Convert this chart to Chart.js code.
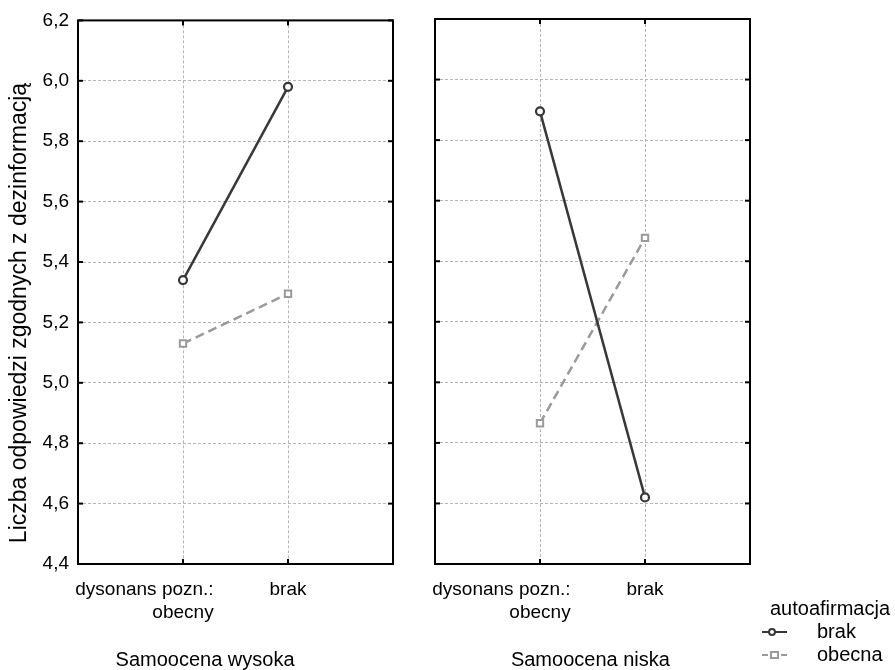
<!DOCTYPE html>
<html>
<head>
<meta charset="utf-8">
<script src="https://cdn.jsdelivr.net/npm/chart.js@4/dist/chart.umd.min.js"></script>
<style>
  html, body { margin: 0; padding: 0; background: #fff; }
  #wrap { position: relative; width: 895px; height: 670px; background: #fff; }
  #wrap canvas { position: absolute; left: 0; top: 0; }
</style>
</head>
<body>
<div id="wrap">
  <canvas id="chartHigh" width="895" height="670"></canvas>
  <canvas id="chartLow" width="895" height="670"></canvas>
</div>
<script>
// Factor on the x axis and its two levels
const factorName = 'dysonans pozn.:';
const levels = ['obecny', 'brak'];

// Panels (self-esteem groups)
const panelTitles = ['Samoocena wysoka', 'Samoocena niska'];

// Series (self-affirmation)
const legendTitle = 'autoafirmacja';
const seriesNames = ['brak', 'obecna'];

// Mean number of misinformation-consistent answers
const highBrak   = [5.34, 5.98];
const highObecna = [5.13, 5.295];
const lowBrak    = [5.895, 4.62];
const lowObecna  = [4.865, 5.477];

// Value axis
const yTicks = [4.4, 4.6, 4.8, 5.0, 5.2, 5.4, 5.6, 5.8, 6.0, 6.2];
const yTitle = 'Liczba odpowiedzi zgodnych z dezinformacją';

const FONT = '"Liberation Sans", Arial, Helvetica, sans-serif';
Chart.defaults.font.family = FONT;
Chart.defaults.color = '#000';

const DARK = '#383838';
const GREY = '#9a9a9a';

function points(vals) {
  return vals.map((v, i) => ({ x: i + 1, y: v }));
}

function line(ctx, x1, y1, x2, y2) {
  ctx.beginPath();
  ctx.moveTo(x1, y1);
  ctx.lineTo(x2, y2);
  ctx.stroke();
}

// Frame, inward tick marks, category labels, panel title, optional legend
const panelDecor = {
  id: 'panelDecor',
  afterDraw(chart, args, o) {
    const { ctx, chartArea: a, scales: { x, y } } = chart;
    ctx.save();
    ctx.strokeStyle = '#000';
    ctx.lineWidth = 2;
    y.ticks.forEach(t => {
      const py = y.getPixelForValue(t.value);
      line(ctx, a.left, py, a.left + 5, py);
      line(ctx, a.right - 5, py, a.right, py);
    });
    levels.forEach((_, i) => {
      const px = x.getPixelForValue(i + 1);
      line(ctx, px, a.top, px, a.top + 5);
      line(ctx, px, a.bottom - 5, px, a.bottom);
    });
    ctx.strokeRect(a.left, a.top, a.right - a.left, a.bottom - a.top);

    // category labels
    ctx.fillStyle = '#000';
    ctx.font = '19px ' + FONT;
    ctx.textBaseline = 'alphabetic';
    const p1 = x.getPixelForValue(1);
    const p2 = x.getPixelForValue(2);
    const w0 = ctx.measureText(levels[0]).width;
    ctx.textAlign = 'right';
    ctx.fillText(factorName, p1 + w0 / 2, a.bottom + 31);
    ctx.textAlign = 'center';
    ctx.fillText(levels[0], p1, a.bottom + 54);
    ctx.fillText(levels[1], p2, a.bottom + 31);

    // panel title
    ctx.font = '20px ' + FONT;
    ctx.fillText(o.title, x.getPixelForValue(o.titleAt), a.bottom + 102);

    // vertical axis title
    if (o.yTitle) {
      ctx.save();
      ctx.translate(20, 313);
      ctx.rotate(-Math.PI / 2);
      ctx.font = '23px ' + FONT;
      ctx.textAlign = 'center';
      ctx.textBaseline = 'middle';
      ctx.fillText(o.yTitle, 0, 0);
      ctx.restore();
    }

    // legend
    if (o.legend) {
      ctx.font = '20px ' + FONT;
      ctx.textAlign = 'left';
      ctx.textBaseline = 'middle';
      ctx.fillText(legendTitle, 770, 609);
      chart.data.datasets.forEach((ds, i) => {
        const cy = 632 + i * 23;
        ctx.strokeStyle = ds.borderColor;
        ctx.lineWidth = 2;
        ctx.setLineDash([]);
        if (i === 0) {
          line(ctx, 762, cy, 787, cy);
          ctx.beginPath();
          ctx.arc(772, cy, 3, 0, Math.PI * 2);
          ctx.fillStyle = '#fff';
          ctx.fill();
          ctx.stroke();
        } else {
          line(ctx, 762, cy, 768, cy);
          line(ctx, 781, cy, 787, cy);
          ctx.fillStyle = '#fff';
          ctx.fillRect(771, cy - 3, 7, 6);
          ctx.strokeRect(771, cy - 3, 7, 6);
        }
        ctx.fillStyle = '#000';
        ctx.fillText(ds.label, 817, cy);
      });
    }
    ctx.restore();
  }
};

function makeChart(id, brakVals, obecnaVals, cfg) {
  return new Chart(document.getElementById(id), {
    type: 'line',
    data: {
      datasets: [
        {
          label: seriesNames[0],
          data: points(brakVals),
          borderColor: DARK,
          borderWidth: 2.5,
          pointStyle: 'circle',
          pointRadius: 4,
          pointBorderWidth: 2.2,
          pointBackgroundColor: '#fff',
          pointBorderColor: DARK,
          tension: 0
        },
        {
          label: seriesNames[1],
          data: points(obecnaVals),
          borderColor: GREY,
          borderWidth: 2.5,
          borderDash: [9, 5],
          pointStyle: 'rect',
          pointRadius: 4.5,
          pointBorderWidth: 2,
          pointBackgroundColor: '#fff',
          pointBorderColor: GREY,
          tension: 0
        }
      ]
    },
    options: {
      responsive: false,
      animation: false,
      layout: { padding: { left: 0, top: 19, right: cfg.padRight, bottom: 0 } },
      plugins: {
        legend: { display: false },
        tooltip: { enabled: false },
        panelDecor: cfg
      },
      scales: {
        x: {
          type: 'linear',
          min: 0,
          max: levels.length + 1,
          ticks: { display: false, stepSize: 1 },
          grid: { color: '#b4b4b4', lineWidth: 1, drawTicks: false },
          border: { display: false, dash: [3, 2] },
          afterFit: s => { s.height = 106; }
        },
        y: {
          type: 'linear',
          min: yTicks[0],
          max: yTicks[yTicks.length - 1],
          afterBuildTicks: s => { s.ticks = yTicks.map(v => ({ value: v })); },
          ticks: {
            display: cfg.showTicks,
            padding: 9,
            font: { size: 19 },
            color: '#000',
            callback: v => v.toFixed(1).replace('.', ',')
          },
          grid: { color: '#b4b4b4', lineWidth: 1, drawTicks: false },
          border: { display: false, dash: [3, 2] },
          afterFit: s => { s.width = cfg.yWidth; }
        }
      }
    },
    plugins: [panelDecor]
  });
}

makeChart('chartHigh', highBrak, highObecna, {
  title: panelTitles[0], titleAt: 1.21, yWidth: 78, padRight: 502,
  showTicks: true, yTitle: yTitle, legend: false
});
makeChart('chartLow', lowBrak, lowObecna, {
  title: panelTitles[1], titleAt: 1.48, yWidth: 435, padRight: 145,
  showTicks: false, yTitle: null, legend: true
});
</script>
</body>
</html>
